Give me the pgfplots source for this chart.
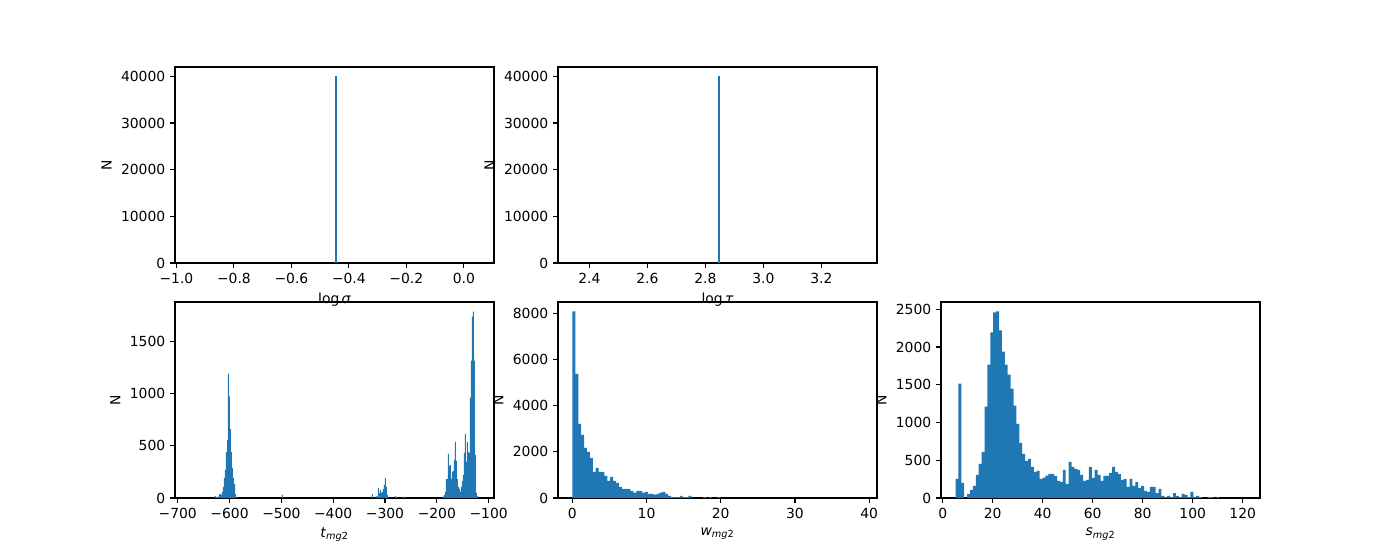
\documentclass[border=0pt]{standalone}
\usepackage{fontspec}
\setmainfont{DejaVu Sans}
\usepackage{pgfplots}
\pgfplotsset{compat=1.18}
\definecolor{mplblue}{HTML}{1F77B4}
\pgfplotsset{mpl/.style={
  scale only axis, width=229.68pt, height=141.12pt,
  anchor=south west,
  axis line style={line width=0.8pt},
  tick align=outside, tick pos=left, major tick length=3.5pt,
  tick style={black, line width=0.8pt},
  tick label style={font=\fontsize{10}{12}\selectfont},
  label style={font=\fontsize{10}{12}\selectfont},
  /pgf/number format/assume math mode=true,
  scaled ticks=false,
  ymin=0,
  ylabel={N},
}}
\begin{document}
\begin{tikzpicture}
\path[use as bounding box] (0,0) rectangle (1008pt,403.2pt);

% top-left: log sigma
\begin{axis}[mpl, at={(126pt,213.84pt)},
  xmin=-1.005, xmax=0.105, ymax=42000,
  xtick={-1.0,-0.8,-0.6,-0.4,-0.2,0.0},
  xticklabels={−1.0,−0.8,−0.6,−0.4,−0.2,0.0},
  ytick={0,10000,20000,30000,40000},
  yticklabels={0,10000,20000,30000,40000},
  xlabel={log\,\textit{σ}}]
\addplot[ybar, bar width=0.008, bar shift=0pt, fill=mplblue, draw=none] coordinates {(-0.445,40000)};
\end{axis}

% top-middle: log tau
\begin{axis}[mpl, at={(401.76pt,213.84pt)},
  xmin=2.292, xmax=3.392, ymax=42000,
  xtick={2.4,2.6,2.8,3.0,3.2},
  xticklabels={2.4,2.6,2.8,3.0,3.2},
  ytick={0,10000,20000,30000,40000},
  yticklabels={0,10000,20000,30000,40000},
  xlabel={log\,\textit{τ}}]
\addplot[ybar, bar width=0.008, bar shift=0pt, fill=mplblue, draw=none] coordinates {(2.847,40000)};
\end{axis}

% bottom-left: t_mg2
\begin{axis}[mpl, at={(126pt,44.64pt)},
  xmin=-705.2, xmax=-89.7, ymax=1880,
  xtick={-700,-600,-500,-400,-300,-200,-100},
  xticklabels={−700,−600,−500,−400,−300,−200,−100},
  ytick={0,500,1000,1500},
  yticklabels={0,500,1000,1500},
  xlabel={\textit{t}\textsubscript{\textit{mg}2}}]
\addplot[ybar, bar width=1.93, bar shift=0pt, fill=mplblue, draw=none] coordinates {
(-627.1,19) (-625.2,10) (-623.2,10) (-621.3,5) (-619.4,38) (-617.5,38) (-615.5,29)
(-613.6,58) (-611.7,106) (-609.7,192) (-607.8,269) (-605.9,442) (-603.9,558)
(-602.0,1192) (-600.1,974) (-598.2,660) (-596.2,442) (-594.3,288) (-592.4,192)
(-590.4,135) (-588.5,38) (-586.6,10)
(-497.8,29)
(-324.2,38) (-316.5,19) (-312.6,96) (-310.7,48) (-308.8,77) (-306.8,48) (-304.9,58)
(-303.0,87) (-301.1,125) (-299.1,192) (-297.2,106) (-295.3,29)
(-279.8,19) (-277.9,10) (-264.4,10) (-260.5,10)
(-187.2,13) (-185.3,29) (-183.3,58) (-181.4,183) (-179.5,183) (-177.6,423)
(-175.6,308) (-173.7,317) (-171.8,183) (-169.8,250) (-167.9,260) (-166.0,365)
(-164.1,538) (-162.1,356) (-160.2,183) (-158.3,106) (-156.3,87) (-154.4,58)
(-152.5,106) (-150.5,163) (-148.6,221) (-146.7,433) (-144.7,615) (-142.8,346)
(-140.9,538) (-139.0,442) (-137.0,433) (-135.1,962) (-133.2,1317) (-131.2,1740)
(-129.3,1788) (-127.4,1317) (-125.4,413) (-123.5,48) (-121.6,19)
};
\end{axis}

% bottom-middle: w_mg2
\begin{axis}[mpl, at={(401.76pt,44.64pt)},
  xmin=-1.93, xmax=41.06, ymax=8505,
  xtick={0,10,20,30,40},
  xticklabels={0,10,20,30,40},
  ytick={0,2000,4000,6000,8000},
  yticklabels={0,2000,4000,6000,8000},
  xlabel={\textit{w}\textsubscript{\textit{mg}2}}]
\addplot[ybar, bar width=0.3908, bar shift=0pt, fill=mplblue, draw=none] coordinates {
(0.215,8100) (0.606,5390) (0.997,3217) (1.388,2739) (1.778,2174) (2.169,2000)
(2.560,1739) (2.951,1130) (3.342,1304) (3.733,1130) (4.123,1130) (4.514,956)
(4.905,739) (5.296,913) (5.687,739) (6.078,652) (6.468,478) (6.859,391)
(7.250,391) (7.641,391) (8.032,304) (8.423,232) (8.813,304) (9.204,304)
(9.595,232) (9.986,261) (10.377,174) (10.768,174) (11.158,145) (11.549,174)
(11.940,232) (12.331,261) (12.722,174) (13.113,87) (13.503,43) (13.894,43)
(14.285,43) (14.676,87) (15.067,43) (15.458,43) (15.848,87)
(17.803,43) (18.585,43) (19.757,43)
};
\end{axis}

% bottom-right: s_mg2
\begin{axis}[mpl, at={(677.52pt,44.64pt)},
  xmin=-0.67, xmax=126.93, ymax=2596,
  xtick={0,20,40,60,80,100,120},
  xticklabels={0,20,40,60,80,100,120},
  ytick={0,500,1000,1500,2000,2500},
  yticklabels={0,500,1000,1500,2000,2500},
  xlabel={\textit{s}\textsubscript{\textit{mg}2}}]
\addplot[ybar, bar width=1.16, bar shift=0pt, fill=mplblue, draw=none] coordinates {
(5.71,252) (6.87,1515) (8.03,199) (10.35,53) (11.51,106) (12.67,160) (13.83,306)
(14.99,452) (16.15,611) (17.31,1209) (18.47,1768) (19.63,2193) (20.79,2459)
(21.95,2472) (23.11,2219) (24.27,1940) (25.43,1768) (26.59,1635) (27.75,1449)
(28.91,1223) (30.07,983) (31.23,731) (32.39,585) (33.55,492) (34.71,518)
(35.87,412) (37.03,346) (38.19,359) (39.35,252) (40.51,270) (41.67,297)
(42.83,319) (43.99,319) (45.15,292) (46.31,226) (47.47,213) (48.63,372)
(49.79,186) (50.95,478) (52.11,412) (53.27,385) (54.43,372) (55.59,306)
(56.75,226) (57.91,239) (59.07,412) (60.23,266) (61.39,372) (62.55,306)
(63.71,226) (64.87,292) (66.03,292) (67.19,332) (68.35,412) (69.51,346)
(70.67,319) (71.83,239) (72.99,252) (74.15,146) (75.31,252) (76.47,160)
(77.63,213) (78.79,133) (79.95,160) (81.11,93) (82.27,80) (83.43,146)
(84.59,146) (85.75,66) (86.91,120) (88.07,27) (89.23,13) (90.39,27)
(91.55,13) (92.71,66) (93.87,27) (95.03,13) (96.19,53) (97.35,40)
(98.51,13) (99.67,80) (100.83,13) (101.99,27) (103.15,13)
(106.63,13) (107.79,13) (110.11,13)
};
\end{axis}
\end{tikzpicture}
\end{document}
